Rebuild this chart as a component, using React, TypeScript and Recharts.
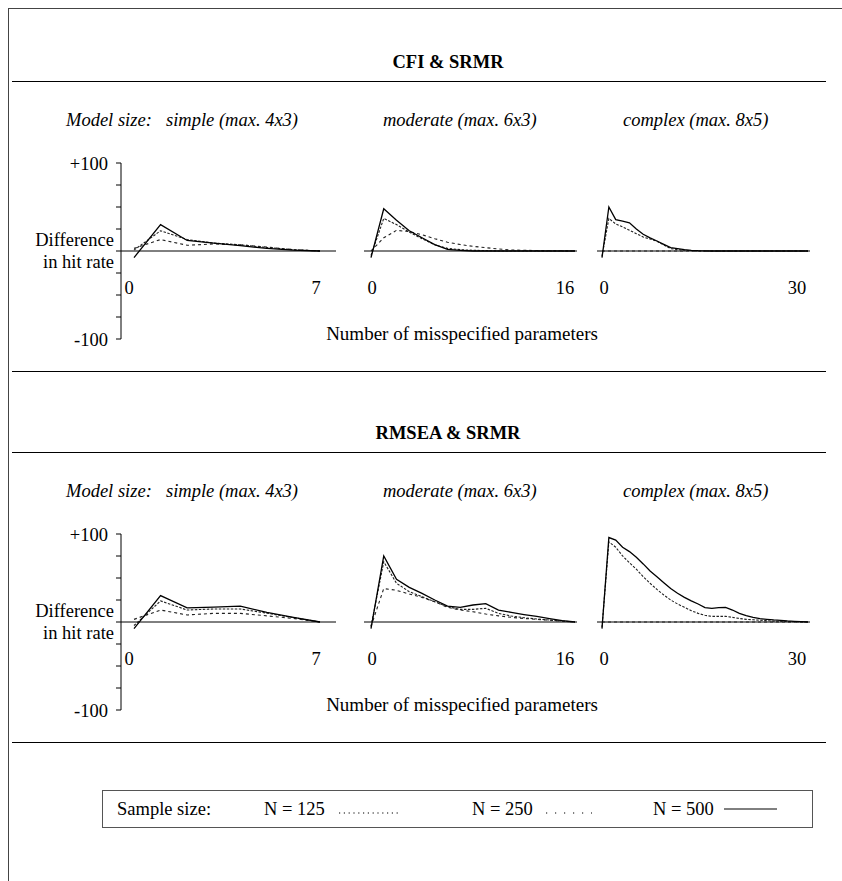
import React from 'react';
import { LineChart, Line, XAxis, YAxis, ReferenceLine } from 'recharts';

const FONT = '"Liberation Serif", "Times New Roman", serif';

// x categories (number of misspecified parameters)
const xSimple = [0, 1, 2, 3, 4, 5, 6, 7];
const xModerate = [0, 1, 2, 3, 4, 5, 6, 7, 8, 9, 10, 11, 12, 13, 14, 15, 16];
const xComplex = [0, 1, 2, 3, 4, 5, 6, 7, 8, 9, 10, 11, 12, 13, 14, 15, 16, 17, 18, 19, 20, 21, 22, 23, 24, 25, 26, 27, 28, 29, 30];

const simpleTicks = [0, 7];
const moderateTicks = [0, 16];
const complexTicks = [0, 30];

const yTicks = [-100, -75, -50, -25, 0, 25, 50, 75, 100];
const yTickLabels = ['-100', '', '', '', '', '', '', '', '+100'];

const sectionTitles = ['CFI & SRMR', 'RMSEA & SRMR'];
const modelSizes = ['simple (max. 4x3)', 'moderate (max. 6x3)', 'complex (max. 8x5)'];
const sampleSizes = ['N = 125', 'N = 250', 'N = 500'];

// CFI & SRMR
const cfiSimple125 = [1, 23, 13, 9, 7, 4, 1.5, 0];
const cfiSimple250 = [3, 13, 6.5, 8, 7, 4.5, 1.5, 0];
const cfiSimple500 = [-7.5, 30, 12, 9, 6, 3, 1, 0];

const cfiModerate125 = [-5, 37, 30, 21.5, 14, 7, 3, 1.5, 0.8, 0.5, 0, 0, 0, 0, 0, 0, 0];
const cfiModerate250 = [0, 15, 23.5, 22, 18.5, 14, 10, 7.3, 5.3, 3.8, 2.3, 1.1, 0.8, 0.5, 0.3, 0.2, 0];
const cfiModerate500 = [-7.5, 48, 35, 23, 15, 7.3, 1.9, 0.8, 0, 0, 0, 0, 0, 0, 0, 0, 0];

const cfiComplex125 = [-6, 37, 30.7, 27.3, 23.5, 19.7, 15.9, 13.6, 11, 6.8, 2.7, 1.5, 0.8, 0.4, 0, 0, 0, 0, 0, 0, 0, 0, 0, 0, 0, 0, 0, 0, 0, 0, 0];
const cfiComplex250 = [0, 0, 0, 0, 0, 0, 0, 0, 0, 0, 0, 0, 0, 0, 0, 0, 0, 0, 0, 0, 0, 0, 0, 0, 0, 0, 0, 0, 0, 0, 0];
const cfiComplex500 = [-7.5, 50, 35.7, 34, 32, 25, 19, 15, 11.4, 7.6, 3.8, 2.7, 1.5, 0.8, 0.4, 0.2, 0, 0, 0, 0, 0, 0, 0, 0, 0, 0, 0, 0, 0, 0, 0];

// RMSEA & SRMR
const rmseaSimple125 = [-4, 24, 13.6, 14.8, 14.8, 10, 5, 0];
const rmseaSimple250 = [3, 13.6, 8, 9.8, 9.8, 7, 4, 0];
const rmseaSimple500 = [-7.5, 30, 16, 17, 18, 11, 5.3, 0];

const rmseaModerate125 = [-5, 68.5, 44, 34.5, 28.8, 23, 17.4, 14.4, 14.4, 15.5, 9.8, 6.8, 4.9, 3.4, 2.3, 1, 0];
const rmseaModerate250 = [-5, 38, 36, 31.8, 28, 23, 16.7, 13.6, 11.7, 9, 7, 5.3, 4, 3, 2, 1, 0];
const rmseaModerate500 = [-7.5, 75, 48.5, 39.4, 32.6, 25, 18, 16.7, 19.3, 20.8, 13.6, 11, 8.5, 6.3, 3.8, 1.5, 0];

const rmseaComplex125 = [-6, 91, 85, 75, 67.4, 60, 51.5, 44, 37, 30.7, 25, 20.5, 16.7, 12.9, 9.8, 7.6, 6.4, 6.4, 6.4, 5.3, 4, 3, 2.5, 2, 1.5, 1, 0.7, 0.5, 0.3, 0.1, 0];
const rmseaComplex250 = [0, 0, 0, 0, 0, 0, 0, 0, 0, 0, 0, 0, 0, 0, 0, 0, 0, 0, 0, 0, 0, 0, 0, 0, 0, 0, 0, 0, 0, 0, 0];
const rmseaComplex500 = [-7.5, 96, 93, 85, 80, 73.5, 66, 58, 51.5, 44.7, 38, 32.6, 28, 24, 20.5, 16.3, 15.5, 16.3, 16.7, 13.6, 9.8, 7.2, 5.3, 3.8, 3, 2.3, 1.8, 1.2, 0.8, 0.4, 0];

const rows = (x: number[], a: number[], b: number[], c: number[]) =>
  x.map((v, i) => ({ x: v, n125: a[i], n250: b[i], n500: c[i] }));

const sections = [
  [
    rows(xSimple, cfiSimple125, cfiSimple250, cfiSimple500),
    rows(xModerate, cfiModerate125, cfiModerate250, cfiModerate500),
    rows(xComplex, cfiComplex125, cfiComplex250, cfiComplex500),
  ],
  [
    rows(xSimple, rmseaSimple125, rmseaSimple250, rmseaSimple500),
    rows(xModerate, rmseaModerate125, rmseaModerate250, rmseaModerate500),
    rows(xComplex, rmseaComplex125, rmseaComplex250, rmseaComplex500),
  ],
];
const panelTicks = [simpleTicks, moderateTicks, complexTicks];

// layout of the three panels in a row
const geom = [
  { left: 11, width: 325, mLeft: 0, mRight: 0, yAxis: true, padL: 13, padR: 16, dx: [-5, -4] },
  { left: 354, width: 233, mLeft: 10, mRight: 10, yAxis: false, padL: 7, padR: 2, dx: [1, -10] },
  { left: 587, width: 233, mLeft: 10, mRight: 10, yAxis: false, padL: 5, padR: 2, dx: [2, -11] },
];
const PLOT_H = 176;
const SECTION_STEP = 371;

const Txt = ({ x, y, anchor = 'start', style, children }: any) => {
  const tx = anchor === 'middle' ? '-50%' : anchor === 'end' ? '-100%' : '0';
  return (
    <div
      style={{
        position: 'absolute', left: x, top: y, transform: `translate(${tx}, -50%)`,
        whiteSpace: 'nowrap', lineHeight: 1, fontFamily: FONT, fontSize: 18.5, color: '#000', ...style,
      }}
    >
      {children}
    </div>
  );
};

const Rule = ({ y }: { y: number }) => (
  <div style={{ position: 'absolute', left: 12, top: y, width: 814, height: 1, background: '#000' }} />
);

const Panel = ({ data, ticks, g, top }: any) => {
  const XTick = ({ x, y, payload, index }: any) => (
    <text x={x + g.dx[index]} y={y - 51} textAnchor="middle" dominantBaseline="central"
      fontFamily={FONT} fontSize={18.5} fill="#000">
      {payload.value}
    </text>
  );
  return (
    <div style={{ position: 'absolute', left: g.left, top: top - 10 }}>
      <LineChart width={g.width} height={PLOT_H + 20} data={data}
        margin={{ top: 10, right: g.mRight, bottom: 0, left: g.mLeft }}>
        <XAxis dataKey="x" type="number" domain={[0, ticks[1]]} ticks={ticks} interval={0}
          height={10} axisLine={false} tickLine={false} tickSize={0} tickMargin={0}
          padding={{ left: g.padL, right: g.padR }} tick={<XTick />} />
        {g.yAxis ? (
          <YAxis type="number" domain={[-100, 100]} ticks={yTicks} interval={0} width={110}
            tickSize={5} tickMargin={8}
            tickFormatter={(v: number) => yTickLabels[yTicks.indexOf(v)]}
            axisLine={{ stroke: '#000' }} tickLine={{ stroke: '#000' }}
            tick={{ fill: '#000', fontSize: 18.5, fontFamily: FONT }} />
        ) : (
          <YAxis hide type="number" domain={[-100, 100]} />
        )}
        <ReferenceLine y={0} stroke="#000" strokeWidth={1} />
        <Line dataKey="n250" type="linear" stroke="#222" strokeWidth={1.1} strokeDasharray="3 3"
          dot={false} isAnimationActive={false} />
        <Line dataKey="n125" type="linear" stroke="#222" strokeWidth={1.1} strokeDasharray="2.5 1.5"
          dot={false} isAnimationActive={false} />
        <Line dataKey="n500" type="linear" stroke="#000" strokeWidth={1.3}
          dot={false} isAnimationActive={false} />
      </LineChart>
    </div>
  );
};

export default function App() {
  const headLeft = [166, 383, 623];
  const legendItems = [
    { text: 264, x1: 339, x2: 398, dash: '1.2 3.6', y: 813 },
    { text: 472, x1: 546, x2: 592, dash: '1.2 7.8', y: 813 },
    { text: 653, x1: 724, x2: 777, dash: undefined, y: 809 },
  ];
  return (
    <div style={{ position: 'absolute', left: 0, top: 0, width: 842, height: 881, overflow: 'hidden', background: '#fff' }}>
      <div style={{ position: 'absolute', left: 8, top: 8, width: 900, height: 900, borderTop: '1px solid #444', borderLeft: '1px solid #444' }} />
      {sections.map((panels, s) => {
        const dy = s * SECTION_STEP;
        return (
          <React.Fragment key={s}>
            <Txt x={448} y={62 + dy} anchor="middle" style={{ fontWeight: 'bold' }}>{sectionTitles[s]}</Txt>
            <Rule y={81 + dy} />
            <Txt x={66} y={120 + dy} style={{ fontStyle: 'italic' }}>Model size:</Txt>
            {modelSizes.map((m, i) => (
              <Txt key={m} x={headLeft[i]} y={120 + dy} style={{ fontStyle: 'italic' }}>{m}</Txt>
            ))}
            {panels.map((data, i) => (
              <Panel key={i} data={data} ticks={panelTicks[i]} g={geom[i]} top={163 + dy} />
            ))}
            <Txt x={114} y={240 + dy} anchor="end">Difference</Txt>
            <Txt x={114} y={262 + dy} anchor="end">in hit rate</Txt>
            <Txt x={462} y={333 + dy} anchor="middle" style={{ fontSize: 19 }}>Number of misspecified parameters</Txt>
            <Rule y={371 + dy} />
          </React.Fragment>
        );
      })}
      <div style={{ position: 'absolute', left: 102, top: 790, width: 711, height: 38, border: '1px solid #555', boxSizing: 'border-box' }} />
      <Txt x={117} y={809}>Sample size:</Txt>
      {legendItems.map((it, i) => (
        <React.Fragment key={i}>
          <Txt x={it.text} y={809}>{sampleSizes[i]}</Txt>
          <svg style={{ position: 'absolute', left: it.x1, top: it.y - 4 }} width={it.x2 - it.x1} height={8}>
            <line x1={0} y1={4} x2={it.x2 - it.x1} y2={4} stroke="#000" strokeWidth={it.dash ? 1.2 : 1}
              strokeDasharray={it.dash} />
          </svg>
        </React.Fragment>
      ))}
    </div>
  );
}
